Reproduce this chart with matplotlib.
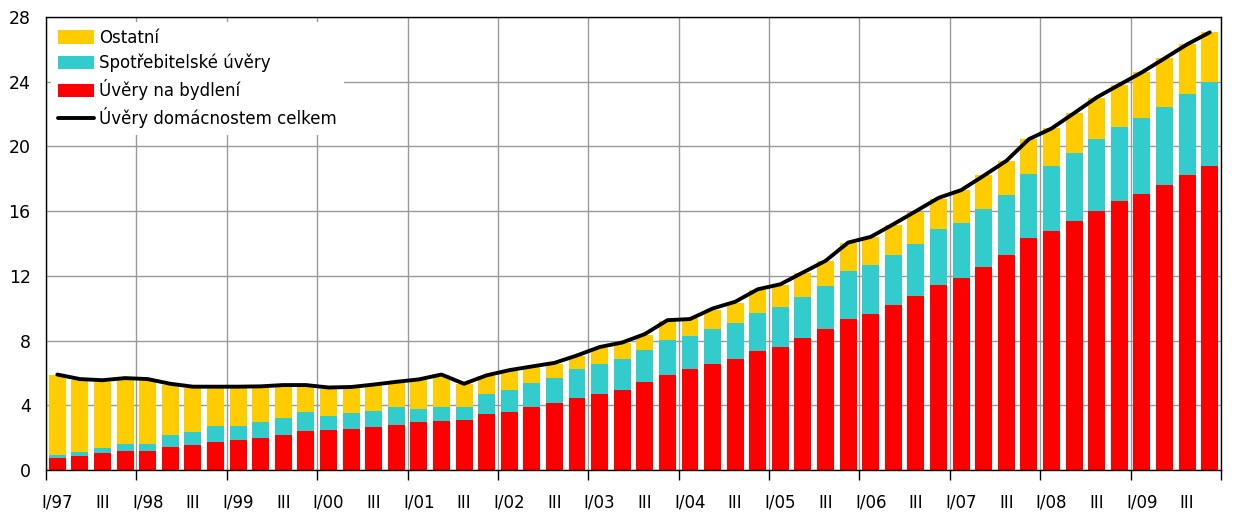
import matplotlib
matplotlib.use("Agg")
import matplotlib.pyplot as plt
import numpy as np

# Quarterly data I/97 .. IV/09
years = ["97", "98", "99", "00", "01", "02", "03", "04", "05", "06", "07", "08", "09"]

housing = [0.76, 0.88, 1.07, 1.19, 1.19, 1.44, 1.56, 1.74, 1.87, 1.99, 2.17, 2.42,
           2.48, 2.54, 2.67, 2.79, 2.97, 3.04, 3.10, 3.47, 3.59, 3.90, 4.14, 4.45,
           4.70, 4.94, 5.44, 5.88, 6.25, 6.56, 6.87, 7.36, 7.61, 8.16, 8.72, 9.34,
           9.65, 10.21, 10.78, 11.42, 11.84, 12.52, 13.26, 14.37, 14.80, 15.36, 15.98, 16.60,
           17.03, 17.59, 18.21, 18.76]

consumer_top = [0.94, 1.13, 1.37, 1.62, 1.62, 2.17, 2.32, 2.73, 2.73, 2.97, 3.22, 3.59,
                3.34, 3.53, 3.65, 3.90, 3.77, 3.90, 3.90, 4.70, 4.94, 5.37, 5.68, 6.24,
                6.55, 6.86, 7.42, 8.04, 8.29, 8.72, 9.09, 9.71, 10.08, 10.70, 11.38, 12.31,
                12.68, 13.30, 13.99, 14.87, 15.24, 16.16, 16.97, 18.27, 18.82, 19.57, 20.43, 21.18,
                21.73, 22.41, 23.22, 23.96]

total_top = [5.87, 5.56, 5.44, 5.58, 5.50, 5.25, 5.05, 5.05, 5.05, 5.05, 5.13, 5.13,
             5.00, 5.05, 5.25, 5.40, 5.56, 5.87, 5.30, 5.80, 6.11, 6.38, 6.58, 7.04,
             7.56, 7.84, 8.35, 9.22, 9.38, 9.92, 10.33, 11.13, 11.44, 12.19, 12.93, 14.04,
             14.41, 15.15, 15.96, 16.76, 17.32, 18.21, 19.11, 20.49, 21.11, 22.04, 22.97, 23.77,
             24.58, 25.44, 26.31, 27.05]

consumer = [c - h for c, h in zip(consumer_top, housing)]
other = [t - c for t, c in zip(total_top, consumer_top)]

# Line: total household loans
total_line = [5.90, 5.62, 5.55, 5.68, 5.62, 5.33, 5.15, 5.15, 5.15, 5.17, 5.25, 5.25,
              5.10, 5.13, 5.28, 5.45, 5.60, 5.90, 5.33, 5.85, 6.17, 6.40, 6.62, 7.08,
              7.60, 7.88, 8.40, 9.26, 9.33, 9.98, 10.40, 11.17, 11.48, 12.21, 12.93, 14.06,
              14.41, 15.19, 16.00, 16.82, 17.30, 18.19, 19.11, 20.45, 21.11, 22.06, 23.03, 23.81,
              24.58, 25.44, 26.31, 27.05]

labels_legend = ["Ostatní", "Spotřebitelské úvěry", "Úvěry na bydlení", "Úvěry domácnostem celkem"]

c_yellow = "#FFCC00"
c_cyan = "#33CCCC"
c_red = "#FF0000"

plt.rcParams['font.family'] = ['DejaVu Sans']

fig = plt.figure(figsize=(12.4, 5.32), dpi=100)
ax = fig.add_axes([46/1240, 62/532, (1221-46)/1240, (470-17)/532])

n = len(housing)
x = np.arange(n)
w = 0.75
b1 = ax.bar(x, housing, w, color=c_red, zorder=2, label=labels_legend[2])
b2 = ax.bar(x, consumer, w, bottom=housing, color=c_cyan, zorder=2, label=labels_legend[1])
b3 = ax.bar(x, other, w, bottom=consumer_top, color=c_yellow, zorder=2, label=labels_legend[0])
ln, = ax.plot(x, total_line, color="black", lw=2.8, zorder=3, solid_capstyle="round",
              label=labels_legend[3])

ax.set_xlim(-0.5, n - 0.5)
ax.set_ylim(0, 28)
ax.set_yticks(np.arange(0, 29, 4))
ax.tick_params(axis="y", length=0, pad=11, labelsize=12.5)

# year boundaries as major ticks + grid
bounds = np.arange(-0.5, n, 4)
ax.set_xticks(bounds)
ax.set_xticklabels([""] * len(bounds))
ax.tick_params(axis="x", which="major", length=7, width=1, direction="out")

lab_pos = np.arange(0, n, 2)
lab_txt = []
for i in lab_pos:
    q = i % 4
    lab_txt.append("I/" + years[i // 4] if q == 0 else "III")
ax.set_xticks(lab_pos, minor=True)
ax.set_xticklabels(lab_txt, minor=True)
ax.tick_params(axis="x", which="minor", length=0, pad=17, labelsize=12)

ax.grid(True, which="major", color="#999999", lw=1.0, zorder=0)
ax.set_axisbelow(True)
for s in ax.spines.values():
    s.set_color("black")
    s.set_linewidth(1.0)

leg = ax.legend([b3, b2, b1, ln], labels_legend, loc="upper left",
                bbox_to_anchor=(0.0, 1.0), frameon=True, fontsize=12,
                handlelength=2.2, handleheight=0.9, handletextpad=0.3,
                labelspacing=0.42, borderaxespad=0.3, borderpad=0.4)
leg.get_frame().set_edgecolor("none")
leg.get_frame().set_facecolor("white")
leg.get_frame().set_alpha(1.0)
leg.get_frame().set_boxstyle("square", pad=0)

fig.savefig("out.png", dpi=100)
